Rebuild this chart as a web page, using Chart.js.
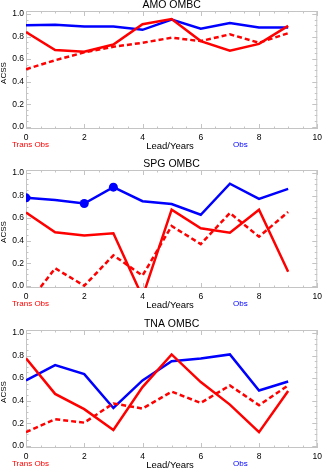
<!DOCTYPE html>
<html lang="en">
<head>
  <meta charset="UTF-8">
  <title>OMBC ACSS</title>
  <script src="https://cdn.jsdelivr.net/npm/chart.js"></script>
  <style>
    body {
      margin: 0;
      background: white;
      width: 326px;
      height: 468px;
      overflow: hidden;
      position: relative;
    }
    .panel {
      position: absolute;
      left: 0;
      width: 326px;
      height: 152px;
    }
  </style>
</head>
<body>

  <div class="panel" style="top: 0px;"><canvas id="amoChart"></canvas></div>
  <div class="panel" style="top: 159px;"><canvas id="spgChart"></canvas></div>
  <div class="panel" style="top: 319px;"><canvas id="tnaChart"></canvas></div>

  <script>
    const leads = [0, 1, 2, 3, 4, 5, 6, 7, 8, 9];
    const xTicks = [0, 2, 4, 6, 8, 10];
    const yTicks = [0, 0.2, 0.4, 0.6, 0.8, 1.0];

    // AMO
    const amoObs = [0.90, 0.905, 0.89, 0.89, 0.86, 0.95, 0.87, 0.92, 0.88, 0.88];
    const amoTrans = [0.84, 0.68, 0.665, 0.73, 0.91, 0.955, 0.76, 0.675, 0.735, 0.895];
    const amoTransDash = [0.51, 0.59, 0.66, 0.71, 0.745, 0.79, 0.76, 0.82, 0.745, 0.83];

    // SPG
    const spgObs = [0.78, 0.76, 0.73, 0.875, 0.75, 0.725, 0.63, 0.905, 0.77, 0.86];
    const spgTrans = [0.65, 0.475, 0.445, 0.465, -0.10, 0.675, 0.51, 0.47, 0.675, 0.125];
    const spgTransDash = [-0.18, 0.155, 0.0, 0.27, 0.09, 0.53, 0.37, 0.645, 0.435, 0.655];
    const spgObsMarked = [0, 2, 3];

    // TNA
    const tnaObs = [0.58, 0.715, 0.635, 0.335, 0.58, 0.75, 0.775, 0.81, 0.49, 0.57];
    const tnaTrans = [0.775, 0.46, 0.325, 0.14, 0.52, 0.81, 0.565, 0.365, 0.12, 0.485];
    const tnaTransDash = [0.12, 0.235, 0.205, 0.375, 0.33, 0.48, 0.38, 0.535, 0.36, 0.535];

    const FONT = "'Liberation Sans', Arial, sans-serif";
    const BOX = '#c4c4c4';

    // box + inward major/minor ticks, then the text around the panel
    const panelText = {
      id: 'panelText',
      beforeDatasetsDraw(chart) {
        const ctx = chart.ctx;
        const a = chart.chartArea;
        const xs = chart.scales.x, ys = chart.scales.y;
        ctx.save();
        ctx.strokeStyle = BOX;
        ctx.lineWidth = 1;
        ctx.strokeRect(a.left + 0.5, a.top + 0.5, a.right - a.left - 1, a.bottom - a.top - 1);
        ctx.beginPath();
        for (let v = 0; v <= 10.001; v += 0.5) {
          const px = Math.round(xs.getPixelForValue(v)) + 0.5;
          const len = (Math.abs(v % 2) < 0.01) ? 5 : 2.5;
          ctx.moveTo(px, a.bottom); ctx.lineTo(px, a.bottom - len);
          ctx.moveTo(px, a.top); ctx.lineTo(px, a.top + len);
        }
        for (let i = 0; i <= 20; i++) {
          const v = i * 0.05;
          const py = Math.round(ys.getPixelForValue(v)) + 0.5;
          const len = (i % 4 === 0) ? 5 : 2.5;
          ctx.moveTo(a.left, py); ctx.lineTo(a.left + len, py);
          ctx.moveTo(a.right, py); ctx.lineTo(a.right - len, py);
        }
        ctx.stroke();
        ctx.restore();
      },
      afterDraw(chart, args, opts) {
        const ctx = chart.ctx;
        const a = chart.chartArea;
        ctx.save();
        ctx.textBaseline = 'middle';

        ctx.fillStyle = '#000';
        ctx.font = '10.5px ' + FONT;
        ctx.textAlign = 'center';
        ctx.fillText(opts.title, (a.left + a.right) / 2, a.top - 6);

        ctx.font = '9.5px ' + FONT;
        ctx.fillText('Lead/Years', 170, a.bottom + 17);

        ctx.save();
        ctx.translate(4, (a.top + a.bottom) / 2 + 3);
        ctx.rotate(-Math.PI / 2);
        ctx.font = '8px ' + FONT;
        ctx.fillText('ACSS', 0, 0);
        ctx.restore();

        ctx.textAlign = 'left';
        ctx.font = '8px ' + FONT;
        ctx.fillStyle = '#ff0000';
        ctx.fillText('Trans Obs', 12, a.bottom + 16);
        ctx.fillStyle = '#0000ff';
        ctx.fillText('Obs', 233, a.bottom + 16);
        ctx.restore();
      }
    };

    function toPoints(values) {
      return values.map((v, i) => ({ x: leads[i], y: v }));
    }

    function renderPanel(id, title, obs, trans, transDash, marked) {
      const canvas = document.getElementById(id);
      canvas.width = 326;
      canvas.height = 152;
      const ctx = canvas.getContext('2d');
      const radii = leads.map((l, i) => (marked && marked.includes(i)) ? 4.5 : 0);
      new Chart(ctx, {
        type: 'line',
        data: {
          datasets: [
            {
              label: 'Trans Obs dashed',
              data: toPoints(transDash),
              borderColor: '#ff0000',
              borderWidth: 2.5,
              borderDash: [5, 3],
              pointRadius: 0,
              fill: false
            },
            {
              label: 'Trans Obs',
              data: toPoints(trans),
              borderColor: '#ff0000',
              borderWidth: 2.5,
              pointRadius: 0,
              fill: false
            },
            {
              label: 'Obs',
              data: toPoints(obs),
              borderColor: '#0000ff',
              backgroundColor: '#0000ff',
              borderWidth: 2.5,
              pointRadius: radii,
              pointBorderWidth: 0,
              fill: false
            }
          ]
        },
        options: {
          responsive: false,
          animation: false,
          layout: { padding: { left: 0, right: 4, top: 11, bottom: 0 } },
          plugins: {
            legend: { display: false },
            title: { display: false },
            tooltip: { enabled: false },
            panelText: { title: title }
          },
          scales: {
            x: {
              type: 'linear',
              min: 0,
              max: 10,
              grid: { display: false, drawTicks: false },
              border: { display: false },
              afterBuildTicks: s => { s.ticks = xTicks.map(v => ({ value: v })); },
              afterFit: s => { s.height = 23; },
              ticks: {
                padding: 4,
                color: '#000',
                maxRotation: 0,
                font: { size: 8.5, family: FONT },
                callback: v => String(v)
              }
            },
            y: {
              min: -0.02,
              max: 1.027,
              grid: { display: false, drawTicks: false },
              border: { display: false },
              afterBuildTicks: s => { s.ticks = yTicks.map(v => ({ value: v })); },
              afterFit: s => { s.width = 26; },
              ticks: {
                padding: 2,
                color: '#000',
                font: { size: 8.5, family: FONT },
                callback: v => Number(v).toFixed(1)
              }
            }
          }
        },
        plugins: [panelText]
      });
    }

    renderPanel('amoChart', 'AMO OMBC', amoObs, amoTrans, amoTransDash, null);
    renderPanel('spgChart', 'SPG OMBC', spgObs, spgTrans, spgTransDash, spgObsMarked);
    renderPanel('tnaChart', 'TNA OMBC', tnaObs, tnaTrans, tnaTransDash, null);
  </script>

</body>
</html>
